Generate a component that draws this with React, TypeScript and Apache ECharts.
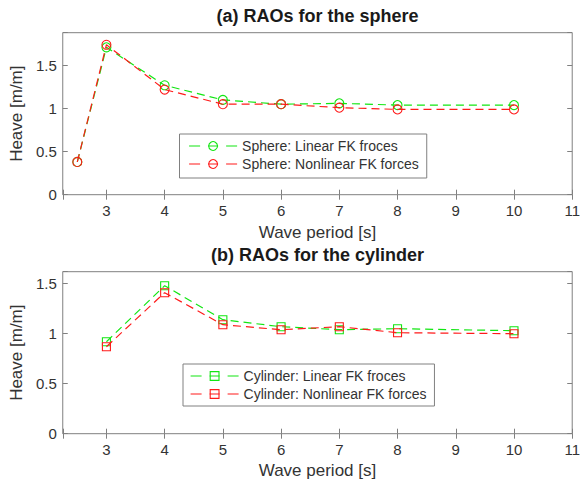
import React, { useEffect, useRef } from "react";
import * as echarts from "echarts";

// ---- data ----
const sphereTitle = "(a) RAOs for the sphere";
const cylinderTitle = "(b) RAOs for the cylinder";
const xAxisName = "Wave period [s]";
const yAxisName = "Heave [m/m]";

const spherePeriods = [2.5, 3, 4, 5, 6, 7, 8, 10];
const sphereLinear = [0.38, 1.71, 1.27, 1.1, 1.05, 1.06, 1.04, 1.04];
const sphereNonlinear = [0.38, 1.74, 1.22, 1.05, 1.05, 1.01, 0.99, 0.99];

const cylinderPeriods = [3, 4, 5, 6, 7, 8, 10];
const cylinderLinear = [0.92, 1.48, 1.14, 1.07, 1.04, 1.05, 1.03];
const cylinderNonlinear = [0.87, 1.41, 1.09, 1.04, 1.07, 1.01, 1.0];

const sphereNames = ["Sphere: Linear FK froces", "Sphere: Nonlinear FK forces"];
const cylinderNames = ["Cylinder: Linear FK froces", "Cylinder: Nonlinear FK forces"];

const xMin = 2.25;
const xMax = 11;
const sphereYMax = 1.88;
const cylinderYMax = 1.62;

// ---- styles ----
const GREEN = "#12e612";
const RED = "#ff1a1a";
const FONT = "'Liberation Sans', Arial, Helvetica, sans-serif";
const TEXT = "#333333";
const FRAME = "#808080";
const DASH = [8, 5];
const LEGEND_DASH = [11, 8, 10, 8, 11, 100];

const pairs = (xs: number[], ys: number[]) => xs.map((x, i) => [x, ys[i]]);

function xAxes(gridIndex: number, nameGap: number) {
  const base = {
    type: "value",
    gridIndex,
    min: xMin,
    max: xMax,
    splitNumber: 8,
    minInterval: 1,
    maxInterval: 1,
    splitLine: { show: false },
    axisLine: { show: false },
    axisTick: { show: true, inside: true, length: 5, lineStyle: { color: FRAME } },
  };
  return [
    {
      ...base,
      position: "bottom",
      name: xAxisName,
      nameLocation: "middle",
      nameGap,
      nameTextStyle: { fontSize: 17, color: TEXT, fontFamily: FONT },
      axisLabel: {
        show: true,
        margin: 8,
        fontSize: 15,
        color: TEXT,
        fontFamily: FONT,
        formatter: (v: number) => (Math.abs(v - Math.round(v)) < 1e-6 ? String(v) : ""),
      },
    },
    { ...base, position: "top", axisLabel: { show: false } },
  ];
}

function yAxes(gridIndex: number, max: number) {
  const base = {
    type: "value",
    gridIndex,
    min: 0,
    max,
    interval: 0.5,
    splitLine: { show: false },
    axisLine: { show: false },
    axisTick: { show: true, inside: true, length: 5, lineStyle: { color: FRAME } },
  };
  return [
    {
      ...base,
      position: "left",
      name: yAxisName,
      nameLocation: "middle",
      nameGap: 36,
      nameTextStyle: { fontSize: 17, color: TEXT, fontFamily: FONT },
      axisLabel: {
        show: true,
        margin: 6,
        fontSize: 15,
        color: TEXT,
        fontFamily: FONT,
        formatter: (v: number) =>
          Math.abs(v * 2 - Math.round(v * 2)) < 1e-6 ? String(v) : "",
      },
    },
    { ...base, position: "right", axisLabel: { show: false } },
  ];
}

function lineSeries(
  name: string,
  xs: number[],
  ys: number[],
  color: string,
  symbol: string,
  symbolSize: number,
  axisIdx: number
) {
  return {
    type: "line",
    name,
    xAxisIndex: axisIdx,
    yAxisIndex: axisIdx,
    data: pairs(xs, ys),
    symbol,
    symbolSize,
    showAllSymbol: true,
    color,
    lineStyle: { color, width: 1.2, type: DASH },
    itemStyle: { color: "rgba(0,0,0,0)", borderColor: color, borderWidth: 1.1 },
    emphasis: { disabled: true },
    z: color === RED ? 3 : 2,
  };
}

function legendItem(name: string, color: string) {
  return {
    name,
    itemStyle: { color: "rgba(0,0,0,0)", borderColor: color, borderWidth: 1.1 },
    lineStyle: { color, width: 1.2, type: LEGEND_DASH },
  };
}

function legend(names: string[], left: number, top: number, padding: number[]) {
  return {
    orient: "vertical",
    left,
    top,
    padding,
    itemGap: 4,
    itemWidth: 48,
    itemHeight: 11,
    backgroundColor: "#ffffff",
    borderColor: FRAME,
    borderWidth: 1,
    selectedMode: false,
    textStyle: { fontSize: 14, color: TEXT, fontFamily: FONT, lineHeight: 14 },
    data: [legendItem(names[0], GREEN), legendItem(names[1], RED)],
  };
}

export default function App() {
  const ref = useRef<HTMLDivElement>(null);

  useEffect(() => {
    if (!ref.current) return;
    const chart = echarts.init(ref.current, undefined, { renderer: "svg" });
    const plotCenter = (58.3 + (583 - 6.3)) / 2;
    chart.setOption({
      animation: false,
      backgroundColor: "#ffffff",
      grid: [
        {
          left: 58.3,
          right: 6.3,
          top: 32.7,
          height: 162,
          show: true,
          borderColor: FRAME,
          borderWidth: 1,
          backgroundColor: "#ffffff",
        },
        {
          left: 58.3,
          right: 6.3,
          top: 271.7,
          height: 162,
          show: true,
          borderColor: FRAME,
          borderWidth: 1,
          backgroundColor: "#ffffff",
        },
      ],
      xAxis: [...xAxes(0, 29), ...xAxes(1, 28)],
      yAxis: [...yAxes(0, sphereYMax), ...yAxes(1, cylinderYMax)],
      legend: [
        legend(sphereNames, 179.5, 134, [5, 8, 7, 9]),
        legend(cylinderNames, 183, 364, [5, 8, 5, 7]),
      ],
      series: [
        lineSeries(sphereNames[0], spherePeriods, sphereLinear, GREEN, "circle", 9, 0),
        lineSeries(sphereNames[1], spherePeriods, sphereNonlinear, RED, "circle", 9, 0),
        lineSeries(cylinderNames[0], cylinderPeriods, cylinderLinear, GREEN, "rect", 8, 2),
        lineSeries(cylinderNames[1], cylinderPeriods, cylinderNonlinear, RED, "rect", 8, 2),
      ],
      graphic: [
        {
          type: "text",
          x: plotCenter,
          y: 16,
          style: {
            text: sphereTitle,
            fontSize: 18,
            fontWeight: "bold",
            fontFamily: FONT,
            fill: "#1a1a1a",
            align: "center",
            verticalAlign: "middle",
          },
        },
        {
          type: "text",
          x: plotCenter,
          y: 255,
          style: {
            text: cylinderTitle,
            fontSize: 18,
            fontWeight: "bold",
            fontFamily: FONT,
            fill: "#1a1a1a",
            align: "center",
            verticalAlign: "middle",
          },
        },
      ],
    });
    return () => chart.dispose();
  }, []);

  return (
    <div
      ref={ref}
      style={{ position: "fixed", left: 0, top: 0, width: 583, height: 483 }}
    />
  );
}
